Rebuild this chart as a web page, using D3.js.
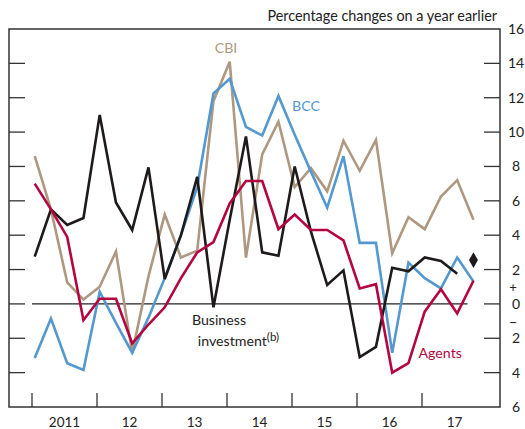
<!DOCTYPE html>
<html>
<head>
<meta charset="utf-8">
<script src="https://cdn.jsdelivr.net/npm/d3@7"></script>
<style>
  body { margin: 0; background: #fff; }
  text { font-family: Lato, "Noto Sans", sans-serif; }
</style>
</head>
<body>
<div id="chartDiv"></div>
<script>
// quarterly, 2011 Q1 .. 2017 Q4
var years = ["2011", "12", "13", "14", "15", "16", "17"];
var agents = [7.0, 5.5, 3.9, -0.95, 0.3, 0.3, -2.3, -1.2, -0.2, 1.5, 3.0, 3.6, 5.85, 7.15,
              7.15, 4.35, 5.2, 4.3, 4.3, 3.7, 0.9, 1.15, -4.0, -3.45, -0.45, 0.85, -0.55, 1.35];
var bcc = [-3.15, -0.85, -3.45, -3.85, 0.7, -1.1, -2.85, -0.8, 1.5, 4.0, 6.8, 12.25, 13.1, 10.3,
           9.8, 12.1, 9.85, 7.7, 5.6, 8.6, 3.55, 3.55, -2.85, 2.4, 1.5, 0.9, 2.7, 1.3];
var cbi = [8.6, 5.5, 1.25, 0.25, 1.0, 3.05, -2.85, 1.6, 5.2, 2.7, 3.1, 11.8, 14.1, 2.7,
           8.7, 10.6, 6.8, 7.9, 6.55, 9.5, 7.75, 9.55, 2.95, 5.05, 4.35, 6.25, 7.2, 4.9];
var business = [2.75, 5.5, 4.6, 5.0, 11.0, 5.9, 4.3, 7.95, 1.45, 4.0, 7.4, -0.2, 4.9, 9.75,
                3.0, 2.8, 8.0, 4.2, 1.1, 1.95, -3.1, -2.5, 2.1, 1.9, 2.7, 2.5, 1.75];
var projection = [2.55]; // 2017 Q4 diamond
var yTicks = [-6, -4, -2, 0, 2, 4, 6, 8, 10, 12, 14, 16];

var width = 525, height = 429;
var plotLeft = 9, plotRight = 500, plotTop = 29, plotBottom = 407;

var svg = d3.select("#chartDiv").append("svg")
    .attr("width", width)
    .attr("height", height);

var x = d3.scaleLinear().domain([2011, 2018]).range([32, 487]);
var y = d3.scaleLinear().domain([-6, 16]).range([plotBottom, plotTop]);

// quarter i plotted at the middle of its first month
function qDate(i) { return 2011 + i / 4 + 1 / 24; }

var axisColor = "#333";

// frame
svg.append("rect")
    .attr("x", plotLeft).attr("y", plotTop)
    .attr("width", plotRight - plotLeft).attr("height", plotBottom - plotTop)
    .attr("fill", "none").attr("stroke", axisColor).attr("stroke-width", 1.5);

// y ticks, both sides, pointing in
var inner = yTicks.filter(function (d) { return d > -6 && d < 16; });
svg.append("g").selectAll("line").data(inner).enter().append("line")
    .attr("x1", plotLeft).attr("x2", plotLeft + 16)
    .attr("y1", function (d) { return y(d); }).attr("y2", function (d) { return y(d); })
    .attr("stroke", axisColor).attr("stroke-width", 1.3);
svg.append("g").selectAll("line").data(inner).enter().append("line")
    .attr("x1", plotRight - 16).attr("x2", plotRight)
    .attr("y1", function (d) { return y(d); }).attr("y2", function (d) { return y(d); })
    .attr("stroke", axisColor).attr("stroke-width", 1.3);

// right labels (absolute values, sign shown by +/-)
svg.append("g").selectAll("text").data(yTicks).enter().append("text")
    .attr("x", 516)
    .attr("y", function (d) { return y(d); })
    .attr("dy", "0.36em")
    .attr("text-anchor", "middle")
    .attr("font-size", "14px")
    .attr("fill", "#222")
    .text(function (d) { return Math.abs(d); });
svg.append("text").attr("x", 513).attr("y", y(0.95)).attr("dy", "0.32em")
    .attr("text-anchor", "middle").attr("font-size", "13px").attr("fill", "#222").text("+");
svg.append("text").attr("x", 513).attr("y", y(-1.05)).attr("dy", "0.36em")
    .attr("text-anchor", "middle").attr("font-size", "15px").attr("fill", "#222").text("\u2013");

// x ticks at year boundaries
var yearStarts = d3.range(2011, 2018);
svg.append("g").selectAll("line").data(yearStarts).enter().append("line")
    .attr("x1", function (d) { return x(d); }).attr("x2", function (d) { return x(d); })
    .attr("y1", plotBottom - 14).attr("y2", plotBottom)
    .attr("stroke", axisColor).attr("stroke-width", 1.3);
svg.append("g").selectAll("text").data(years).enter().append("text")
    .attr("x", function (d, i) { return x(2011 + i + 0.5); })
    .attr("y", 427)
    .attr("text-anchor", "middle")
    .attr("font-size", "13.5px")
    .attr("fill", "#222")
    .text(function (d) { return d; });

// zero line
svg.append("line")
    .attr("x1", x(2011)).attr("x2", x(2017.7))
    .attr("y1", y(0)).attr("y2", y(0))
    .attr("stroke", "#222").attr("stroke-width", 1.3);

// units
svg.append("text")
    .attr("x", 497).attr("y", 21)
    .attr("text-anchor", "end")
    .attr("font-size", "14.4px")
    .attr("fill", "#222")
    .text("Percentage changes on a year earlier");

var line = d3.line()
    .x(function (d, i) { return x(qDate(i)); })
    .y(function (d) { return y(d); });

var series = [
    { name: "CBI", values: cbi, color: "#ae9880" },
    { name: "BCC", values: bcc, color: "#5398cf" },
    { name: "Business", values: business, color: "#1e1a1b" },
    { name: "Agents", values: agents, color: "#b3053f" }
];

svg.append("g").selectAll("path").data(series).enter().append("path")
    .attr("d", function (d) { return line(d.values); })
    .attr("fill", "none")
    .attr("stroke", function (d) { return d.color; })
    .attr("stroke-width", 2.6)
    .attr("stroke-linejoin", "miter");

// projection diamond
svg.append("path")
    .attr("d", d3.symbol().type(d3.symbolDiamond).size(70))
    .attr("transform", "translate(" + x(qDate(27)) + "," + y(projection[0]) + ")")
    .attr("fill", "#1e1a1b");

// series labels
svg.append("text").attr("x", x(2013.985)).attr("y", y(14.6))
    .attr("text-anchor", "middle").attr("font-size", "14.2px")
    .attr("fill", "#ae9880").text("CBI");
svg.append("text").attr("x", x(2015.215)).attr("y", y(11.2))
    .attr("text-anchor", "middle").attr("font-size", "14.2px")
    .attr("fill", "#5398cf").text("BCC");
svg.append("text").attr("x", x(2017.28)).attr("y", y(-3.15))
    .attr("text-anchor", "middle").attr("font-size", "14.2px")
    .attr("fill", "#b3053f").text("Agents");
svg.append("text").attr("x", x(2013.46)).attr("y", y(-1.25))
    .attr("text-anchor", "start").attr("font-size", "14.2px")
    .attr("fill", "#222").text("Business");
var inv = svg.append("text").attr("x", x(2013.55)).attr("y", y(-2.45))
    .attr("text-anchor", "start").attr("font-size", "14.2px")
    .attr("fill", "#222");
inv.append("tspan").text("investment");
inv.append("tspan").attr("font-size", "11.5px").attr("dy", "-5").text("(b)");
</script>
</body>
</html>
